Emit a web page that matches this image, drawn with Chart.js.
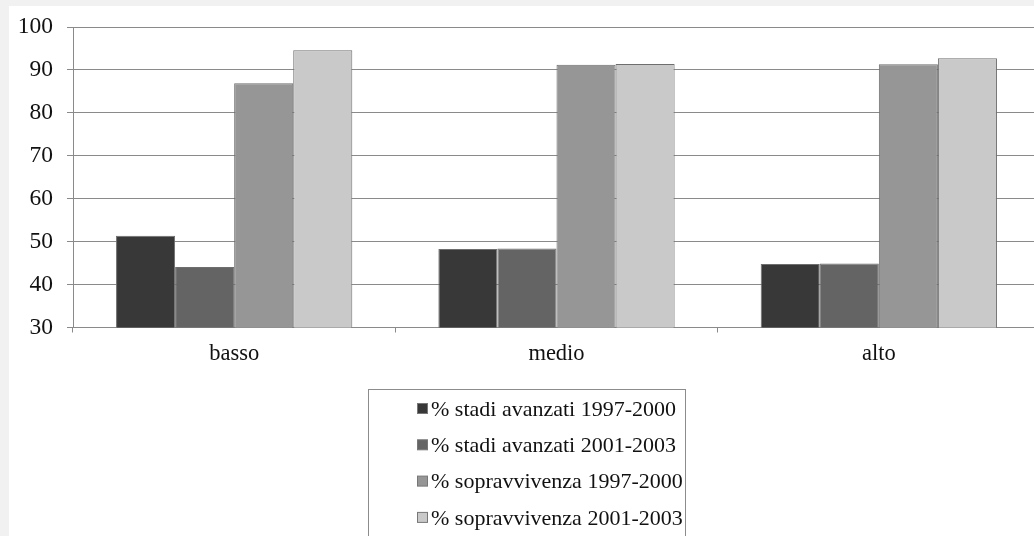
<!DOCTYPE html>
<html>
<head>
<meta charset="utf-8">
<script src="https://cdn.jsdelivr.net/npm/chart.js@4"></script>
<style>
  html, body { margin: 0; padding: 0; background: #f1f1f1; overflow: hidden; }
  body { width: 1034px; height: 536px; position: relative; }
  #wrap { position: absolute; left: 9px; top: 6px; width: 1032px; height: 530px; background: #fff; }
</style>
</head>
<body>
<div id="wrap"><canvas id="myChart" width="1032" height="530"></canvas></div>
<script>
// categorie e serie
const categorie = ['basso', 'medio', 'alto'];
const etichette = [
  '% stadi avanzati 1997-2000',
  '% stadi avanzati 2001-2003',
  '% sopravvivenza 1997-2000',
  '% sopravvivenza 2001-2003'
];
const stadi9700 = [51.4, 48.3, 44.8];
const stadi0103 = [44.1, 48.4, 44.9];
const sopr9700 = [86.9, 91.2, 91.3];
const sopr0103 = [94.6, 91.4, 92.7];
const yTicks = [30, 40, 50, 60, 70, 80, 90, 100];

const colori = ['#383838', '#646464', '#969696', '#c9c9c9'];
const serie = [stadi9700, stadi0103, sopr9700, sopr0103];
const font = '"Liberation Serif", "Times New Roman", serif';

// legenda in riquadro, sotto il grafico
const legendaBox = {
  id: 'legendaBox',
  afterDraw(chart) {
    const ctx = chart.ctx;
    const x0 = 359, y0 = 383, w = 317, h = 150;
    ctx.save();
    ctx.strokeStyle = '#8c8c8c';
    ctx.lineWidth = 1;
    ctx.strokeRect(x0 + 0.5, y0 + 0.5, w, h);
    ctx.font = '22px ' + font;
    ctx.textBaseline = 'middle';
    chart.data.datasets.forEach((ds, i) => {
      const y = y0 + 21 + i * 36.3;
      ctx.fillStyle = ds.backgroundColor;
      ctx.fillRect(408.5, y - 6.5, 10, 10);
      ctx.strokeStyle = '#777';
      ctx.strokeRect(408.5, y - 6.5, 10, 10);
      ctx.fillStyle = '#111';
      ctx.fillText(ds.label, 422, y);
    });
    ctx.restore();
  }
};

const ctx = document.getElementById('myChart').getContext('2d');
const myChart = new Chart(ctx, {
  type: 'bar',
  data: {
    labels: categorie,
    datasets: serie.map((d, i) => ({
      label: etichette[i],
      data: d,
      backgroundColor: colori[i],
      borderColor: '#6e6e6e',
      borderWidth: 1,
      categoryPercentage: 0.733,
      barPercentage: 1
    }))
  },
  options: {
    responsive: false,
    animation: false,
    layout: { padding: { top: 21, right: 1, left: 0, bottom: 0 } },
    plugins: { legend: { display: false }, tooltip: { enabled: false } },
    scales: {
      x: {
        grid: { offset: true, drawOnChartArea: false, drawTicks: true, tickLength: 5, color: '#8a8a8a' },
        border: { color: '#8a8a8a' },
        ticks: { color: '#111', font: { family: font, size: 22.5 }, padding: 8 },
        afterFit(scale) { scale.height = 208.5; }
      },
      y: {
        min: 30,
        max: 100,
        afterBuildTicks(scale) { scale.ticks = yTicks.map(v => ({ value: v })); },
        grid: { color: '#8a8a8a', tickLength: 6 },
        border: { color: '#8a8a8a' },
        ticks: { color: '#111', font: { family: font, size: 23.5 }, padding: 14 },
        afterFit(scale) { scale.width = 64; scale.paddingTop = 0; scale.paddingBottom = 0; }
      }
    }
  },
  plugins: [legendaBox]
});
</script>
</body>
</html>
